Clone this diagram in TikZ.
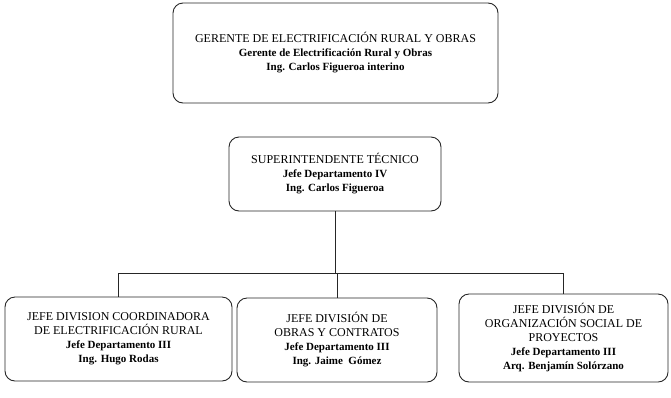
\documentclass[tikz,border=0pt]{standalone}
\usepackage{fontspec}
\setmainfont{Liberation Serif}
\usepackage{tikz}
\usetikzlibrary{positioning}

\newcommand{\detalle}[1]{{\fontsize{11}{14}\selectfont\textbf{#1}}}

\begin{document}
\begin{tikzpicture}[x=1pt, y=-1pt]
    \tikzstyle{cargo} = [rectangle, rounded corners=10pt, draw=black!85, line width=0.9pt, align=center, inner sep=2pt, font=\fontsize{12}{14}\selectfont]
    \tikzstyle{linea} = [draw=black!85, line width=0.8pt]

    \useasboundingbox (0,0) rectangle (671,397);

    \node (gerente) [cargo, minimum width=325pt, minimum height=100pt] at (335.5,53)
        {GERENTE DE ELECTRIFICACIÓN RURAL Y OBRAS\\ \detalle{Gerente de Electrificación Rural y Obras}\\ \detalle{Ing. Carlos Figueroa interino}};
    \node (super) [cargo, minimum width=212pt, minimum height=74pt] at (335,174)
        {SUPERINTENDENTE TÉCNICO\\ \detalle{Jefe Departamento IV}\\ \detalle{Ing. Carlos Figueroa}};

    \node (coord) [cargo, minimum width=227pt, minimum height=84pt] at (118.5,339)
        {JEFE DIVISION COORDINADORA\\ DE ELECTRIFICACIÓN RURAL\\ \detalle{Jefe Departamento III}\\ \detalle{Ing. Hugo Rodas}};
    \node (obras) [cargo, minimum width=200pt, minimum height=84pt] at (337,340)
        {JEFE DIVISIÓN DE\\ OBRAS Y CONTRATOS\\ \detalle{Jefe Departamento III}\\ \detalle{Ing. Jaime\ \ Gómez}};
    \node (social) [cargo, minimum width=209pt, minimum height=88pt] at (563.5,338)
        {JEFE DIVISIÓN DE\\ ORGANIZACIÓN SOCIAL DE\\ PROYECTOS\\ \detalle{Jefe Departamento III}\\ \detalle{Arq. Benjamín Solórzano}};

    % Barra horizontal del organigrama
    \coordinate (barra) at (338,273);
    \draw[linea] (super.south) -- (super.south |- barra);
    \draw[linea] (coord.north) -- (coord.north |- barra) -- (social.north |- barra) -- (social.north);
    \draw[linea] (obras.north) -- (obras.north |- barra);
\end{tikzpicture}
\end{document}
